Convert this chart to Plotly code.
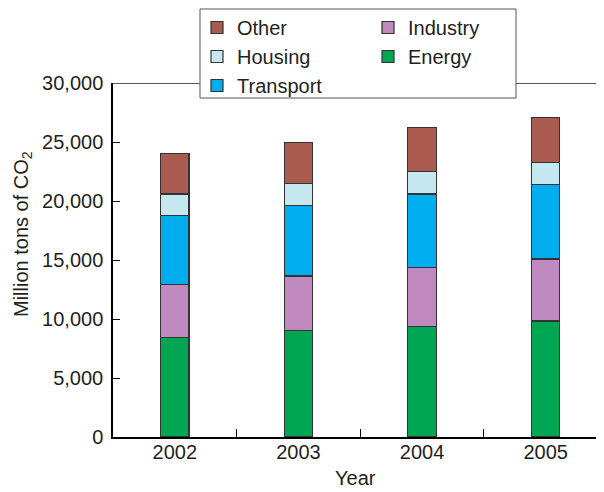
import plotly.graph_objects as go

# CO2 emissions by sector (million tons)
years = ['2002', '2003', '2004', '2005']
energy = [8400, 9050, 9350, 9830]
industry = [4550, 4600, 5030, 5250]
transport = [5800, 6000, 6210, 6330]
housing = [1850, 1860, 1890, 1840]
other = [3450, 3470, 3730, 3840]

font_main = dict(family='Liberation Sans, Arial, Helvetica, sans-serif', size=20, color='#231F20')

# stacking goes bottom -> top, legend rank gives the two-column legend
series = [
    ('Energy', energy, '#00A651', 4),
    ('Industry', industry, '#BF8ABF', 2),
    ('Transport', transport, '#00AEEF', 5),
    ('Housing', housing, '#C5E8F0', 3),
    ('Other', other, '#A85B4E', 1),
]

# page body has an 8px margin, so the figure is drawn 8px in from the corner
W, H = 596, 484
L, T, B = 105, 75, 55
pw, ph = W - L, H - T - B


def px_x(sx):
    return (sx - 8 - L) / pw


def px_y(sy):
    return (H - B - (sy - 8)) / ph


fig = go.Figure()
for name, vals, col, rank in series:
    fig.add_trace(go.Bar(
        x=years, y=vals, name=name,
        marker=dict(color=col, line=dict(color='#333333', width=1.2)),
        width=0.23, legendrank=rank,
    ))

fig.update_layout(
    barmode='stack',
    width=W, height=H,
    margin=dict(l=L, r=0, t=T, b=B, autoexpand=False),
    plot_bgcolor='white', paper_bgcolor='white',
    font=font_main,
    showlegend=True,
    legend=dict(
        orientation='h', traceorder='normal',
        x=189/W, xref='container', xanchor='left',
        y=1, yref='container', yanchor='top',
        bgcolor='rgba(0,0,0,0)', borderwidth=0,
        entrywidth=126, entrywidthmode='pixels',
        font=font_main,
    ),
    xaxis=dict(
        type='category', range=[-0.5, 3.472],
        tickson='boundaries', ticks='inside', ticklen=8, tickcolor='black',
        showline=True, linecolor='black', linewidth=1.5,
        showgrid=False, ticklabelstandoff=-4, automargin=False,
    ),
    yaxis=dict(
        range=[0, 30000], dtick=5000, tickformat=',',
        ticks='inside', ticklen=7, tickcolor='black',
        showline=True, linecolor='black', linewidth=1.5,
        showgrid=False, zeroline=False, ticklabelstandoff=4, automargin=False,
    ),
    annotations=[
        dict(
            text='Million tons of CO<sub>2</sub>', textangle=-90,
            xref='paper', yref='paper', x=px_x(22), y=px_y(234),
            xanchor='center', yanchor='middle', showarrow=False, font=font_main,
        ),
        dict(
            text='Year', xref='paper', yref='paper', x=px_x(355), y=px_y(478),
            xanchor='center', yanchor='middle', showarrow=False, font=font_main,
        ),
    ],
    shapes=[
        dict(
            type='line', xref='paper', yref='y', x0=0, x1=1, y0=30000, y1=30000,
            line=dict(color='#222222', width=1.3), layer='below',
        ),
        # legend frame
        dict(
            type='rect', xref='paper', yref='paper',
            x0=px_x(200), x1=px_x(516), y0=px_y(98), y1=px_y(9),
            fillcolor='white', line=dict(color='#555555', width=1), layer='above',
        ),
    ],
)

fig.write_html('out.html')
